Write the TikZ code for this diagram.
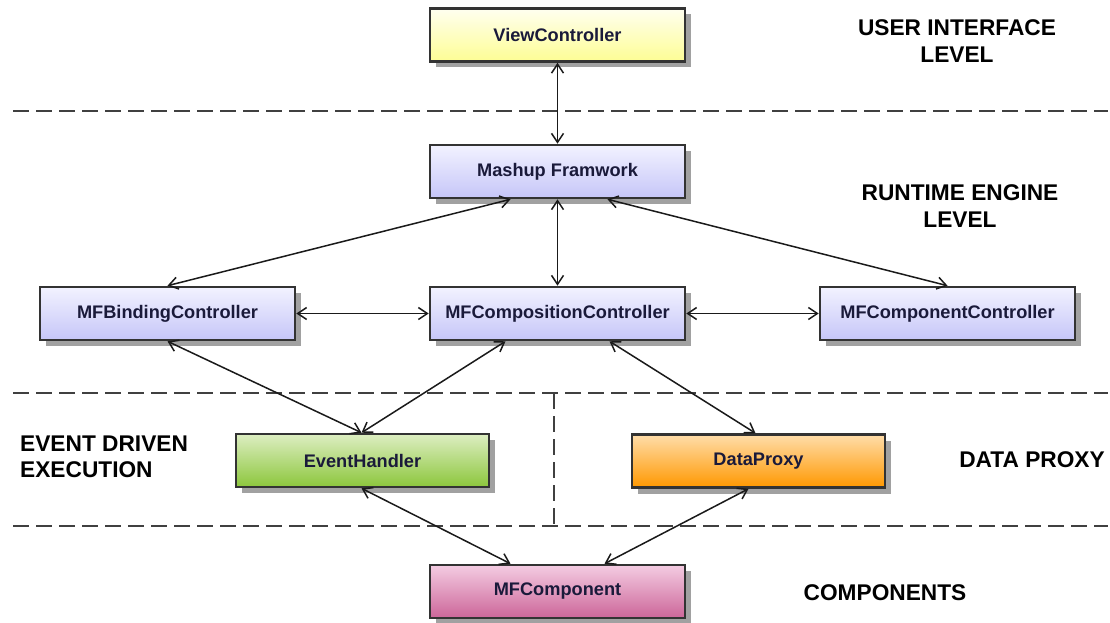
\documentclass[tikz,border=0pt]{standalone}
\usepackage{fontspec}
\setmainfont{Liberation Sans}
\usetikzlibrary{arrows.meta,shadows,calc}

\definecolor{boxline}{HTML}{333333}
\definecolor{boxtext}{HTML}{1A1A3A}
\definecolor{sepline}{HTML}{404040}
\definecolor{conn}{HTML}{1A1A1A}

\tikzset{
  module/.style={draw=boxline, line width=2.6pt, minimum width=255pt, minimum height=53pt,
    inner sep=0pt, text=boxtext, font=\fontsize{18.2}{20}\selectfont\bfseries,
    drop shadow={shadow xshift=6pt, shadow yshift=-6pt, fill=black!37, opacity=1}},
  ui/.style={module, top color=HTML-ui-top, bottom color=HTML-ui-bot},
  rt/.style={module, top color=HTML-rt-top, bottom color=HTML-rt-bot},
  ev/.style={module, top color=HTML-ev-top, bottom color=HTML-ev-bot, minimum width=253pt},
  dp/.style={module, top color=HTML-dp-top, bottom color=HTML-dp-bot, minimum width=253pt},
  cp/.style={module, top color=HTML-cp-top, bottom color=HTML-cp-bot},
  link/.style={draw=conn, line width=1.5pt, {Straight Barb[length=9pt,width=12pt]}-{Straight Barb[length=9pt,width=12pt]}},
  sep/.style={draw=sepline, line width=2.4pt, dash pattern=on 16pt off 7pt},
  level/.style={font=\fontsize{22.7}{26.5}\selectfont\bfseries, inner sep=0pt}
}
\definecolor{HTML-ui-top}{HTML}{FFFFF0}
\definecolor{HTML-ui-bot}{HTML}{FDFD94}
\definecolor{HTML-rt-top}{HTML}{F2F2FF}
\definecolor{HTML-rt-bot}{HTML}{C6C6F8}
\definecolor{HTML-ev-top}{HTML}{DDEEC2}
\definecolor{HTML-ev-bot}{HTML}{8CC63C}
\definecolor{HTML-dp-top}{HTML}{FFDDAA}
\definecolor{HTML-dp-bot}{HTML}{FF9800}
\definecolor{HTML-cp-top}{HTML}{F4CCE2}
\definecolor{HTML-cp-bot}{HTML}{CC6699}

\begin{document}
\begin{tikzpicture}[x=1pt,y=-1pt]
  \useasboundingbox[fill=white] (0,0) rectangle (1110,623);

  % level separators
  \draw[sep] (13,111) -- (1108,111);
  \draw[sep] (13,393) -- (1108,393);
  \draw[sep] (13,526) -- (1108,526);
  \draw[sep] (554,393) -- (554,526);

  % modules
  \node[ui] (vc)   at (557.5,35)    {ViewController};
  \node[rt] (mf)   at (557.5,171.5) {Mashup Framwork};
  \node[rt] (bind) at (167.5,313.5) {MFBindingController};
  \node[rt] (comp) at (557.5,313.5) {MFCompositionController};
  \node[rt] (cctl) at (947.5,313.5) {MFComponentController};
  \node[ev] (evh)  at (362.5,460.5) {EventHandler};
  \node[dp] (dpx)  at (758.5,461)   {DataProxy};
  \node[cp] (mfc)  at (557.5,591.5) {MFComponent};

  % connections
  \draw[link] (vc.south) -- (mf.north);
  \draw[link] ($(mf.south)+(-47,0)$) -- (bind.north);
  \draw[link] (mf.south) -- (comp.north);
  \draw[link] ($(mf.south)+(50,0)$) -- (cctl.north);
  \draw[link] (bind.east) -- (comp.west);
  \draw[link] (comp.east) -- (cctl.west);
  \draw[link] (bind.south) -- ($(evh.north)+(-1,0)$);
  \draw[link] ($(comp.south)+(-52,0)$) -- ($(evh.north)+(-1,0)$);
  \draw[link] ($(comp.south)+(52,0)$) -- ($(dpx.north)+(-3,0)$);
  \draw[link] ($(evh.south)+(-1,0)$) -- ($(mfc.north)+(-47,0)$);
  \draw[link] ($(dpx.south)+(-10,0)$) -- ($(mfc.north)+(47,0)$);

  % level captions
  \node[level, align=center] (lui)  at (957,41)  {USER INTERFACE\\LEVEL};
  \node[level, align=center] (lrt)  at (960,206) {RUNTIME ENGINE\\LEVEL};
  \node[level, align=left, anchor=west] (lev) at (20,457) {EVENT DRIVEN\\EXECUTION};
  \node[level] (ldp)  at (1032,460) {DATA PROXY};
  \node[level] (lcp)  at (885,593)  {COMPONENTS};
\end{tikzpicture}
\end{document}
